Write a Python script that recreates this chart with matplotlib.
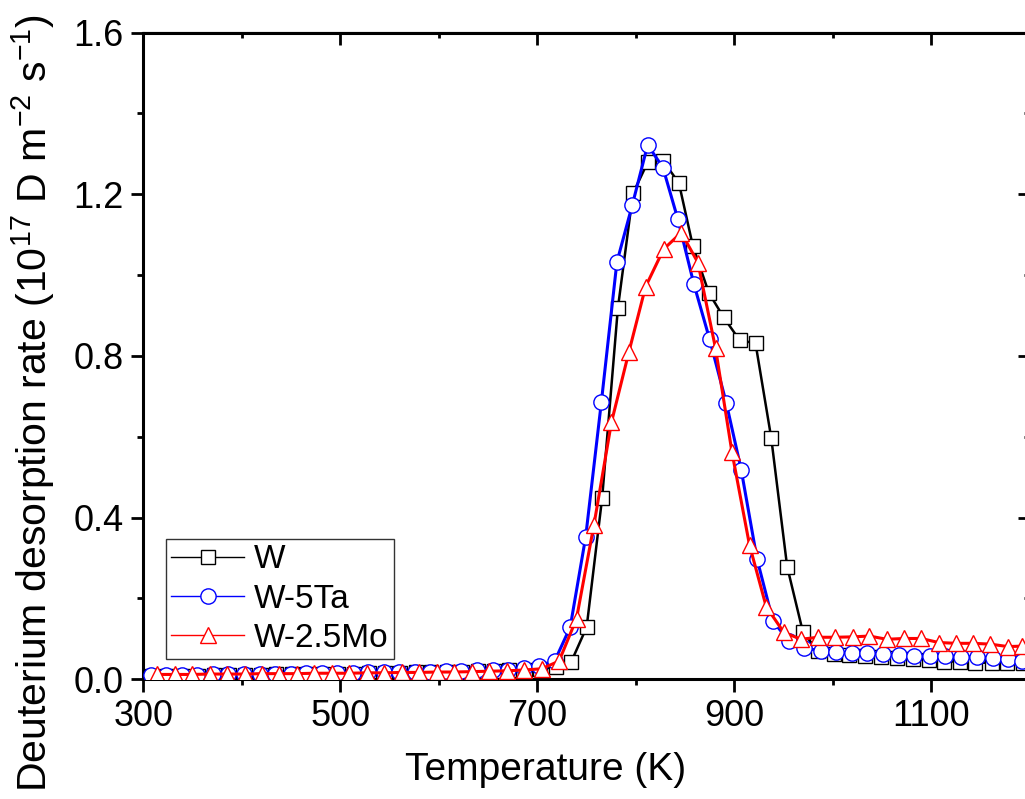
import matplotlib
matplotlib.use('Agg')
import matplotlib.pyplot as plt
from matplotlib.lines import Line2D
from matplotlib.ticker import MultipleLocator, FixedLocator, FormatStrFormatter

plt.rcParams['font.family'] = ['Liberation Sans', 'DejaVu Sans']
plt.rcParams['mathtext.default'] = 'regular'

# W (black squares)
w_temp = [308.6, 324.4, 340.1, 355.9, 371.7, 387.4, 403.2, 419.0, 434.7, 450.5,
          466.3, 482.0, 497.8, 513.6, 529.3, 545.1, 560.9, 576.6, 592.4, 608.2,
          623.9, 639.7, 655.5, 671.2, 687.0, 702.8, 718.5, 734.3, 750.0, 765.7,
          781.7, 797.0, 812.2, 827.4, 843.6, 857.8, 874.0, 889.2, 905.2, 921.4,
          937.3, 953.5, 969.4, 984.6, 1000.8, 1016.7, 1032.6, 1048.9, 1065.1, 1080.9,
          1097.2, 1113.1, 1129.0, 1144.5, 1161.0, 1176.3, 1192.5]
w_rate = [0.008, 0.008, 0.009, 0.009, 0.010, 0.010, 0.011, 0.011, 0.012, 0.012,
          0.013, 0.013, 0.014, 0.014, 0.015, 0.015, 0.016, 0.017, 0.017, 0.018,
          0.019, 0.020, 0.021, 0.022, 0.024, 0.026, 0.030, 0.043, 0.129, 0.448,
          0.918, 1.202, 1.280, 1.283, 1.228, 1.072, 0.956, 0.895, 0.839, 0.831,
          0.598, 0.279, 0.118, 0.070, 0.063, 0.060, 0.058, 0.056, 0.052, 0.050,
          0.048, 0.044, 0.044, 0.041, 0.041, 0.040, 0.040]

# W-5Ta (blue circles)
ta_temp = [307.6, 323.4, 339.1, 354.9, 370.7, 386.4, 402.2, 418.0, 433.7, 449.5,
           465.3, 481.0, 496.8, 512.6, 528.3, 544.1, 559.9, 575.6, 591.4, 607.2,
           622.9, 638.7, 654.5, 670.2, 686.0, 701.8, 717.5, 733.3, 749.0, 764.9,
           780.7, 796.3, 811.9, 827.4, 842.6, 858.8, 874.7, 891.7, 906.9, 922.9,
           939.0, 955.2, 970.6, 988.0, 1003.2, 1019.0, 1034.7, 1050.5, 1066.7, 1082.7,
           1098.6, 1114.1, 1130.0, 1146.2, 1162.0, 1178.0, 1192.0]
ta_rate = [0.010, 0.010, 0.011, 0.011, 0.012, 0.012, 0.013, 0.013, 0.014, 0.014,
           0.015, 0.015, 0.016, 0.016, 0.017, 0.017, 0.018, 0.018, 0.019, 0.020,
           0.021, 0.022, 0.023, 0.024, 0.027, 0.032, 0.045, 0.129, 0.352, 0.685,
           1.032, 1.173, 1.322, 1.266, 1.138, 0.978, 0.842, 0.684, 0.518, 0.298,
           0.145, 0.094, 0.078, 0.070, 0.068, 0.064, 0.066, 0.063, 0.060, 0.058,
           0.058, 0.058, 0.056, 0.054, 0.052, 0.050, 0.045]

# W-2.5Mo (red triangles)
mo_temp = [314.1, 331.8, 349.6, 367.3, 385.0, 402.8, 420.5, 438.2, 456.0, 473.7,
           491.4, 509.2, 526.9, 544.6, 562.4, 580.1, 597.8, 615.6, 633.3, 651.0,
           668.8, 686.5, 704.2, 722.0, 739.7, 757.4, 775.2, 792.9, 809.8, 828.1,
           846.0, 862.9, 880.8, 897.4, 915.3, 932.2, 950.1, 967.7, 984.6, 1002.5,
           1020.1, 1037.0, 1054.6, 1072.5, 1089.4, 1107.3, 1124.9, 1142.5, 1159.7, 1177.3,
           1192.2]
mo_rate = [0.012, 0.012, 0.012, 0.013, 0.013, 0.013, 0.014, 0.014, 0.014, 0.015,
           0.015, 0.015, 0.016, 0.016, 0.017, 0.017, 0.018, 0.018, 0.019, 0.020,
           0.021, 0.023, 0.026, 0.045, 0.150, 0.382, 0.636, 0.810, 0.971, 1.064,
           1.105, 1.031, 0.819, 0.563, 0.332, 0.180, 0.116, 0.099, 0.104, 0.104,
           0.105, 0.107, 0.099, 0.101, 0.101, 0.091, 0.089, 0.089, 0.087, 0.081,
           0.082]

labels = ['W', 'W-5Ta', 'W-2.5Mo']
x_major = [300, 500, 700, 900, 1100]
x_minor = [400, 600, 800, 1000, 1200]

W, H = 1025, 799
fig = plt.figure(figsize=(W / 100, H / 100), dpi=100)
ax = fig.add_axes([143.3 / W, 1 - 679.3 / H, (1030 - 143.3) / W, (679.3 - 32.5) / H])

mk = dict(markerfacecolor='white', markeredgewidth=1.0)
ax.plot(w_temp, w_rate, color='black', lw=1.8, marker='s', markersize=10,
        markeredgecolor='black', zorder=2, **mk)
ax.plot(ta_temp, ta_rate, color='#0000ff', lw=2.2, marker='o', markersize=11,
        markeredgecolor='#0000ff', zorder=3, **mk)
ax.plot(mo_temp, mo_rate, color='#ff0000', lw=2.2, marker='^', markersize=12,
        markeredgecolor='#ff0000', zorder=4, **mk)

ax.set_xlim(300, 1200)
ax.set_ylim(0, 1.6)
ax.xaxis.set_major_locator(FixedLocator(x_major))
ax.xaxis.set_minor_locator(FixedLocator(x_minor))
ax.yaxis.set_major_locator(MultipleLocator(0.4))
ax.yaxis.set_minor_locator(MultipleLocator(0.2))
ax.yaxis.set_major_formatter(FormatStrFormatter('%.1f'))

for s in ax.spines.values():
    s.set_linewidth(2.2)
ax.tick_params(which='major', direction='out', length=9, width=2, labelsize=26, pad=5)
ax.tick_params(which='minor', direction='out', length=4, width=2)

# mirrored ticks pointing inward on the top and right
top = ax.secondary_xaxis('top')
top.xaxis.set_major_locator(FixedLocator(x_major))
top.xaxis.set_minor_locator(FixedLocator(x_minor))
top.tick_params(which='major', direction='in', length=9, width=2, labeltop=False)
top.tick_params(which='minor', direction='in', length=4, width=2)
right = ax.secondary_yaxis('right')
right.yaxis.set_major_locator(MultipleLocator(0.4))
right.yaxis.set_minor_locator(MultipleLocator(0.2))
right.tick_params(which='major', direction='in', length=9, width=2, labelright=False)
right.tick_params(which='minor', direction='in', length=4, width=2)

fig.text(546 / W, 1 - 770 / H, 'Temperature (K)', fontsize=28, ha='center', va='center')
fig.text(33 / W, 1 - 403 / H, 'Deuterium desorption rate (10$^{17}$ D m$^{-2}$ s$^{-1}$)',
         fontsize=29.5, rotation=90, ha='center', va='center')

handles = [
    Line2D([], [], color='black', lw=1, marker='s', markerfacecolor='white', markersize=10),
    Line2D([], [], color='#0000ff', lw=1, marker='o', markerfacecolor='white', markersize=11),
    Line2D([], [], color='#ff0000', lw=1, marker='^', markerfacecolor='white', markersize=12),
]
leg = ax.legend(handles, labels, loc='lower left', bbox_to_anchor=(166 / W, 1 - 659 / H),
                bbox_transform=fig.transFigure, fontsize=24, frameon=True, fancybox=False,
                edgecolor='black', handlelength=2.2, handletextpad=0.3, labelspacing=0.25,
                borderpad=0.15, borderaxespad=0)
leg.get_frame().set_linewidth(1)

fig.savefig('out.png', dpi=100)
